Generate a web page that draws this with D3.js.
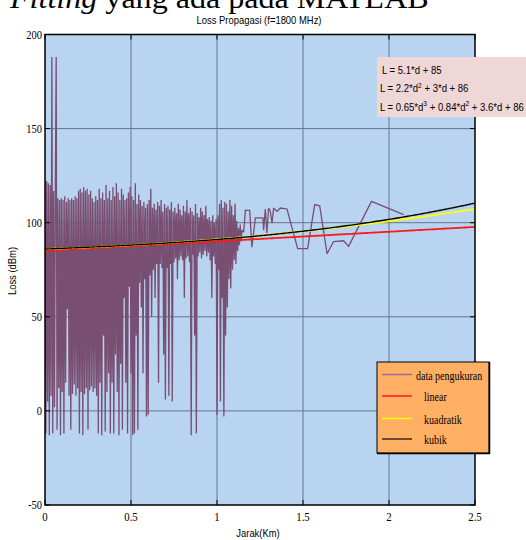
<!DOCTYPE html>
<html><head><meta charset="utf-8">
<script src="https://cdn.jsdelivr.net/npm/d3@7"></script>
<style>body{margin:0;background:#fff}svg{display:block}</style>
</head><body>
<svg id="c" width="526" height="540"></svg>
<script>
// ---------- data ----------
const xTicks = [0, 0.5, 1, 1.5, 2, 2.5];
const xTickLabels = ["0", "0.5", "1", "1.5", "2", "2.5"];
const yTicks = [-50, 0, 50, 100, 150, 200];
const yTickLabels = ["-50", "0", "50", "100", "150", "200"];

// dense measurement part: samples every 0.005 km starting at 0 km
const denseStep = 0.005;
const denseLoss = [
  123, -12, 122, 5, 121, -13, 120, 8, 188, -12,
  117, 2, 114, 188, -10, 113, 12, 112, -13, 113,
  10, 112, -12, 114, 15, 111, 54, 113, 8, 112,
  -10, 113, 9, 112, 14, 114, 8, 113, 12, 117,
  -12, 118, 10, 116, -13, 119, 9, 117, 12, 118,
  -10, 115, 11, 117, 13, 113, 10, 111, 12, 114,
  8, 112, -12, 118, 15, 113, -13, 116, 40, 112,
  -11, 120, 10, 113, 20, 117, -12, 112, 15, 119,
  -12, 114, 30, 121, 10, 116, -13, 112, 25, 118,
  -10, 115, 60, 112, 15, 113, -12, 116, 66, 119,
  20, 114, -13, 112, -12, 121, 40, 110, -10, 115,
  68, 112, 55, 109, 20, 111, 70, 108, -3, 110,
  -2, 112, 72, 118, 50, 108, 75, 110, 60, 107,
  78, 111, 15, 109, 78, 112, 76, 106, 30, 110,
  6, 108, 76, 109, 8, 107, 78, 111, 5, 106,
  79, 108, 81, 105, 70, 110, 80, 107, 82, 104,
  80, 109, 60, 106, 81, 112, 82, 105, 79, 108,
  -13, 106, 83, 104, 40, 110, -12, 105, 82, 103,
  84, 108, 81, 106, 83, 104, 85, 109, 82, 102,
  84, 103, 80, 101, 60, 104, 82, 100, 78, 102,
  -2, 104, 75, 110, 5, 112, 60, 108, -3, 111,
  40, 110, 55, 106, 70, 112, 65, 109, 75, 104,
  80, 110, 78, 101, 85, 97, 88, 99, 90, 96
];
// sparse measurement part
const sparseDist = [1.155, 1.165, 1.19, 1.203, 1.223, 1.267, 1.271, 1.281, 1.29, 1.30, 1.31, 1.32, 1.329, 1.349, 1.368, 1.407, 1.469, 1.527, 1.568, 1.597, 1.64, 1.678, 1.736, 1.765, 1.898, 2.085];
const sparseLoss = [95, 106.5, 106.5, 87, 102.6, 102.6, 96, 107.3, 94.5, 107.8, 106, 99.8, 107.8, 106, 107.8, 107.3, 86.2, 86.2, 109.6, 109, 83.5, 90, 90.4, 87.4, 111.3, 104.3];

// fitted models (coefficients, highest power first)
const fitNames = ["linear", "kuadratik", "kubik"];
const fitCoefs = [[5.1, 85], [2.2, 3, 86], [0.65, 0.84, 3.6, 86]];
const legendNames = ["data pengukuran", "linear", "kuadratik", "kubik"];

// ---------- layout ----------
const svg = d3.select("#c");
const L = 45, R = 475, T = 34.5, B = 505;
const x = d3.scaleLinear().domain([0, 2.5]).range([L, R]);
const y = d3.scaleLinear().domain([-50, 200]).range([B, T]);

const cData = "#784e72", cLin = "#ff1a1a", cQuad = "#ffff00", cCub = "#000000";

function stext(parent, px, py, str, o) {
  const t = parent.append("text")
    .attr("transform", `translate(${px},${py}) ${o.rot ? "rotate(" + o.rot + ")" : ""} scale(${o.sx || 1},1)`)
    .attr("text-anchor", o.anchor || "start")
    .attr("font-family", o.family || "Liberation Sans, Arial, sans-serif")
    .attr("font-size", o.size || 11)
    .attr("fill", o.fill || "#000");
  if (o.style) t.attr("font-style", o.style);
  if (str !== null) t.text(str);
  return t;
}

// top partial document text (cut off by the page edge, as in the source)
const docText = stext(svg, 10, 7.5, null, {size: 30, sx: 1.07, family: "Liberation Serif, Times New Roman, serif"});
docText.append("tspan").attr("font-style", "italic").text("Fitting");
docText.append("tspan").text(" yang ada pada MATLAB");

// title
stext(svg, 259, 23.5, "Loss Propagasi (f=1800 MHz)", {size: 10.5, sx: 0.9, anchor: "middle"});

// plot background
svg.append("rect").attr("x", L).attr("y", T).attr("width", R - L).attr("height", B - T).attr("fill", "#b9d4f1");

// grid
const grid = svg.append("g").attr("stroke", "#56657a").attr("stroke-width", 1).attr("opacity", 0.85);
xTicks.slice(1, -1).forEach(v => grid.append("line").attr("x1", x(v)).attr("x2", x(v)).attr("y1", T).attr("y2", B));
yTicks.slice(1, -1).forEach(v => grid.append("line").attr("y1", y(v)).attr("y2", y(v)).attr("x1", L).attr("x2", R));

// clip
svg.append("clipPath").attr("id", "clip").append("rect").attr("x", L).attr("y", T).attr("width", R - L).attr("height", B - T);
const plot = svg.append("g").attr("clip-path", "url(#clip)");

// measured data
const meas = denseLoss.map((v, i) => [i * denseStep, v]).concat(sparseDist.map((d, i) => [d, sparseLoss[i]]));
const line = d3.line().x(d => x(d[0])).y(d => y(d[1]));
plot.append("path").datum(meas).attr("d", line).attr("fill", "none").attr("stroke", cData).attr("stroke-width", 1.3).attr("stroke-linejoin", "miter").attr("stroke-miterlimit", 2);

// fits
function poly(c, d) { return c.reduce((a, k) => a * d + k, 0); }
const fitColors = [cLin, cQuad, cCub];
const fitDs = d3.range(0, 2.5001, 0.01);
fitCoefs.forEach((c, k) => {
  plot.append("path").datum(fitDs.map(d => [d, poly(c, d)]))
    .attr("d", line).attr("fill", "none").attr("stroke", fitColors[k]).attr("stroke-width", k === 2 ? 1.4 : 1.8);
});

// axes box
const ax = svg.append("g").attr("stroke", "#000");
ax.append("rect").attr("x", L).attr("y", T).attr("width", R - L).attr("height", B - T).attr("fill", "none").attr("stroke-width", 1.5);
xTicks.forEach(v => {
  ax.append("line").attr("x1", x(v)).attr("x2", x(v)).attr("y1", B).attr("y2", B - 5).attr("stroke-width", 1);
  ax.append("line").attr("x1", x(v)).attr("x2", x(v)).attr("y1", T).attr("y2", T + 5).attr("stroke-width", 1);
});
yTicks.forEach(v => {
  ax.append("line").attr("x1", L).attr("x2", L + 5).attr("y1", y(v)).attr("y2", y(v)).attr("stroke-width", 1);
  ax.append("line").attr("x1", R).attr("x2", R - 5).attr("y1", y(v)).attr("y2", y(v)).attr("stroke-width", 1);
});

// tick labels
const serif = "Liberation Serif, Times New Roman, serif";
xTicks.forEach((v, i) => stext(svg, x(v), 521, xTickLabels[i], {size: 12, sx: 0.9, anchor: "middle", family: serif}));
yTicks.forEach((v, i) => stext(svg, 42, y(v) + 4, yTickLabels[i], {size: 12.5, sx: 0.84, anchor: "end", family: serif}));

// axis labels
stext(svg, 258, 537, "Jarak(Km)", {size: 11.6, sx: 0.81, anchor: "middle"});
stext(svg, 15.5, 271, "Loss (dBm)", {size: 10.5, sx: 0.9, anchor: "middle", rot: -90});

// equations box
svg.append("rect").attr("x", 377).attr("y", 57).attr("width", 160).attr("height", 60).attr("fill", "#efd7d7");
function fmt(c) {
  const n = c.length - 1;
  const parts = [["L = ", false]];
  c.forEach((k, i) => {
    const p = n - i;
    if (i > 0) parts.push([" + ", false]);
    if (p === 0) parts.push([String(k), false]);
    else {
      parts.push([k + "*d", false]);
      if (p > 1) parts.push([String(p), true]);
    }
  });
  return parts;
}
const eqX = [382, 380, 380], eqY = [74, 92, 110.5];
fitCoefs.forEach((c, k) => {
  const t = stext(svg, eqX[k], eqY[k], null, {size: 11.5, sx: 0.83});
  let sup = false;
  fmt(c).forEach(([s, isSup]) => {
    const ts = t.append("tspan").text(s);
    if (isSup && !sup) { ts.attr("dy", -4.5).attr("font-size", 8); sup = true; }
    else if (isSup) { ts.attr("font-size", 8); }
    else if (sup) { ts.attr("dy", 4.5); sup = false; }
  });
});

// legend
const lg = svg.append("g");
lg.append("rect").attr("x", 377).attr("y", 362).attr("width", 112).attr("height", 91).attr("fill", "#ffb064").attr("stroke", "#000").attr("stroke-width", 1);
lg.append("line").attr("x1", 489.5).attr("x2", 489.5).attr("y1", 362).attr("y2", 454).attr("stroke", "#000").attr("stroke-width", 1.5);
lg.append("line").attr("x1", 377).attr("x2", 490).attr("y1", 453.5).attr("y2", 453.5).attr("stroke", "#000").attr("stroke-width", 1.5);
const legColors = ["#8e6e96", cLin, cQuad, "#3a2a1a"];
const legLineY = [374.5, 396, 418.5, 439];
const legTextX = [416, 424, 424, 424];
legendNames.forEach((n, i) => {
  lg.append("line").attr("x1", 382).attr("x2", 412).attr("y1", legLineY[i]).attr("y2", legLineY[i]).attr("stroke", legColors[i]).attr("stroke-width", 1.5);
  stext(lg, legTextX[i], legLineY[i] + 5, n, {size: 12.5, sx: 0.8, family: serif});
});
</script>
</body></html>
